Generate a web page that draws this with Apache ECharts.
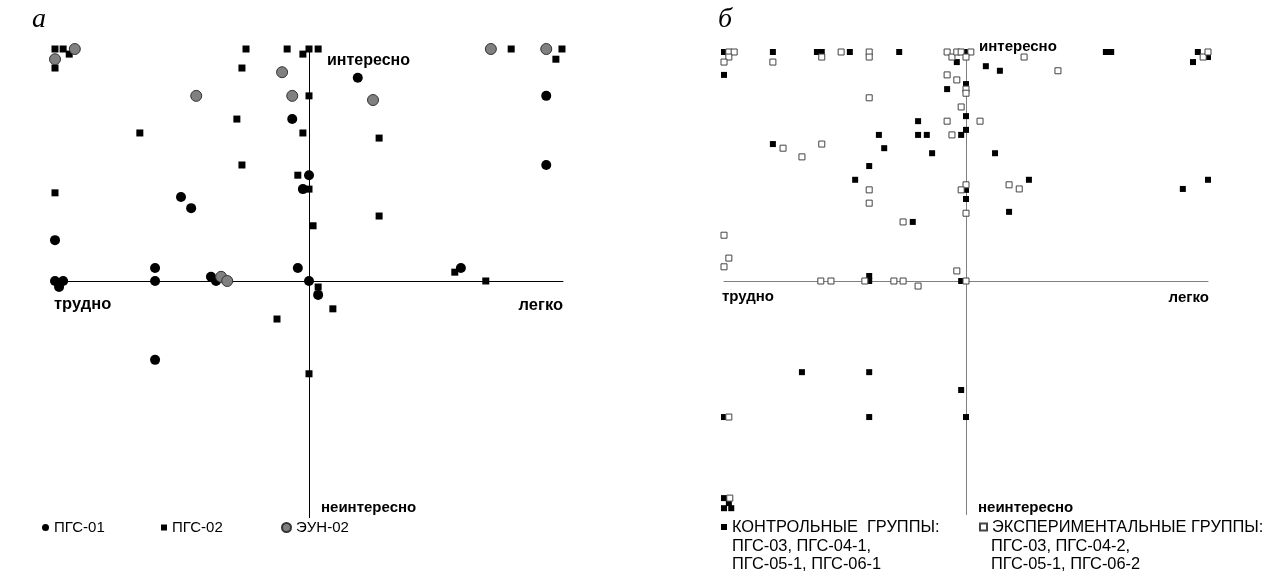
<!DOCTYPE html>
<html><head><meta charset="utf-8">
<script src="https://cdn.jsdelivr.net/npm/echarts@6/dist/echarts.min.js"></script>
<style>html,body{margin:0;padding:0;background:#fff}#c{width:1273px;height:574px}</style>
</head><body><div id="c"></div>
<script>
// Panel а: x = трудно(-5) .. легко(+5), y = неинтересно(-5) .. интересно(+5)
const pgs01 = [[-0.33,3.49],[0,2.28],[-0.12,1.98],[-2.52,1.81],[-2.32,1.57],[0.96,4.38],[4.67,3.99],[4.67,2.5],[-5,0.88],[-5,0],[-4.92,-0.13],[-4.84,0],[-3.03,0.28],[-3.03,0],[-1.93,0.09],[-1.83,0],[-0.22,0.28],[0,0],[0.18,-0.3],[-3.03,-1.7],[2.99,0.28]];
const pgs02 = [[-5,5],[-4.84,5],[-4.72,4.89],[-5,4.59],[-1.24,5],[-1.32,4.59],[-0.43,5],[-0.12,4.89],[0,5],[0.18,5],[0,3.99],[-1.42,3.49],[-3.33,3.19],[-0.12,3.19],[-1.32,2.5],[-0.22,2.28],[0,1.98],[-5,1.9],[3.98,5],[4.98,5],[4.86,4.78],[1.38,3.08],[0.08,1.19],[0.18,-0.13],[-0.63,-0.82],[0,-2],[1.38,1.4],[2.87,0.19],[3.48,0],[0.47,-0.6]];
const eun02 = [[-4.61,5],[-5,4.78],[-2.22,3.99],[-0.53,4.5],[-0.33,3.99],[1.26,3.9],[3.58,5],[4.67,5],[-1.73,0.09],[-1.61,0]];
// Panel б
const control = [[-5,5],[-3.99,5],[-3.08,5],[-2.98,5],[-2.4,5],[-1.38,5],[0,5],[-0.19,4.78],[-5,4.5],[0,4.3],[-0.39,4.19],[0,3.6],[-0.99,3.49],[-1.8,3.19],[-0.99,3.19],[-0.81,3.19],[-0.1,3.19],[0,3.3],[-3.99,2.99],[-1.69,2.9],[-0.7,2.79],[0.6,2.79],[0.41,4.69],[0.7,4.59],[2.89,5],[3.0,5],[4.79,5],[5,4.89],[4.69,4.78],[-2,2.51],[-2.29,2.21],[0,1.99],[0,1.79],[-1.1,1.29],[-2,0.11],[-2,0],[-0.1,0],[1.3,2.21],[0.89,1.51],[4.48,2.01],[5,2.21],[-3.39,-1.99],[-2,-1.99],[-0.1,-2.38],[0,-2.97],[-2,-2.97],[-5,-2.97],[-5,-4.74],[-4.9,-4.85],[-5,-4.96],[-4.85,-4.96]];
const experimental = [[-4.9,5],[-4.79,5],[-4.9,4.89],[-5,4.78],[-3.99,4.78],[-2.98,4.89],[-2.58,5],[-2,5],[-2,4.89],[-0.39,5],[-0.29,4.89],[-0.19,5],[-0.1,5],[0.1,5],[0,4.89],[-0.39,4.5],[-0.19,4.39],[0,4.19],[0,4.1],[-2,4.0],[-0.1,3.8],[-0.39,3.49],[0.29,3.49],[-0.29,3.19],[-3.78,2.9],[-2.98,2.99],[-3.39,2.71],[1.2,4.89],[1.9,4.59],[4.9,4.89],[5,5],[-2,1.99],[-2,1.7],[0,2.1],[-0.1,1.99],[0,1.48],[-1.3,1.29],[-5,1.0],[-4.9,0.5],[-5,0.31],[-3,0],[-2.79,0],[-2.09,0],[-1.49,0],[-1.3,0],[-0.99,-0.11],[-0.19,0.22],[0,0],[0.89,2.1],[1.1,2.01],[-4.9,-2.97],[-4.88,-4.74]];

const FONT = '"Liberation Sans", Arial, sans-serif';
const chart = echarts.init(document.getElementById('c'), null, {renderer:'canvas'});

function axisX(idx, color){ return {type:'value', gridIndex:idx, min:-5, max:5, axisLine:{onZero:true, lineStyle:{color:color,width:1}}, axisTick:{show:false}, axisLabel:{show:false}, splitLine:{show:false}}; }
function axisY(idx, color){ return {type:'value', gridIndex:idx, min:-5.1, max:5, axisLine:{onZero:true, lineStyle:{color:color,width:1}}, axisTick:{show:false}, axisLabel:{show:false}, splitLine:{show:false}}; }

function txt(x, y, s, font){ return {type:'text', left:x, top:y, z:10, style:{text:s, font:font||('bold 15px '+FONT), fill:'#000'}}; }

const legendText = {fontFamily:FONT, fontSize:15, color:'#000'};
function leg(name, x, y, icon, w, h, fs){ return {data:[{name:name, icon:icon}], left:x, top:y, padding:0, itemWidth:w, itemHeight:h, itemGap:0, textStyle:Object.assign({}, legendText, {fontSize:fs||15}), selectedMode:false}; }

chart.setOption({
  animation:false,
  backgroundColor:'#fff',
  grid:[
    {left:55, top:49, width:508, height:468.6},
    {left:724, top:52, width:484, height:462.6}
  ],
  xAxis:[axisX(0,'#000'), axisX(1,'#808080')],
  yAxis:[axisY(0,'#000'), axisY(1,'#808080')],
  legend:[
    leg('ПГС-01', 42, 520, 'circle', 7, 7),
    leg('ПГС-02', 161, 520, 'rect', 6, 6),
    leg('ЭУН-02', 281, 520, 'circle', 9, 9),
    leg('КОНТРОЛЬНЫЕ  ГРУППЫ:', 721, 519, 'rect', 6, 6, 16.4),
    leg('ЭКСПЕРИМЕНТАЛЬНЫЕ ГРУППЫ:', 979, 519, 'rect', 7, 7, 16.4)
  ],
  series:[
    {name:'ПГС-01', type:'scatter', xAxisIndex:0, yAxisIndex:0, data:pgs01, symbol:'circle', symbolSize:10, clip:false, itemStyle:{color:'#000', opacity:1}},
    {name:'ПГС-02', type:'scatter', xAxisIndex:0, yAxisIndex:0, data:pgs02, symbol:'rect', symbolSize:7, clip:false, itemStyle:{color:'#000', opacity:1}},
    {name:'ЭУН-02', type:'scatter', xAxisIndex:0, yAxisIndex:0, data:eun02, symbol:'circle', symbolSize:11, clip:false, itemStyle:{color:'#808080', borderColor:'#333', borderWidth:1, opacity:1}},
    {name:'КОНТРОЛЬНЫЕ  ГРУППЫ:', type:'scatter', xAxisIndex:1, yAxisIndex:1, data:control, symbol:'rect', symbolSize:6, clip:false, itemStyle:{color:'#000', opacity:1}},
    {name:'ЭКСПЕРИМЕНТАЛЬНЫЕ ГРУППЫ:', type:'scatter', xAxisIndex:1, yAxisIndex:1, data:experimental, symbol:'rect', symbolSize:6, clip:false, itemStyle:{color:'#fff', borderColor:'#444', borderWidth:1, opacity:1}}
  ],
  graphic:[
    txt(32, 6, 'а', 'italic 28px "Liberation Serif", "Times New Roman", serif'),
    txt(718, 6, 'б', 'italic 28px "Liberation Serif", "Times New Roman", serif'),
    txt(327, 53, 'интересно', 'bold 16px '+FONT),
    txt(54, 296, 'трудно', 'bold 16.5px '+FONT),
    {type:'text', right:1273-563, top:297, z:10, style:{text:'легко', font:'bold 16.5px '+FONT, fill:'#000'}},
    txt(321, 500, 'неинтересно'),
    txt(979, 39, 'интересно'),
    txt(722, 289, 'трудно'),
    {type:'text', right:1273-1209, top:290, z:10, style:{text:'легко', font:'bold 15px '+FONT, fill:'#000'}},
    txt(978, 500, 'неинтересно'),
    txt(732, 538, 'ПГС-03, ПГС-04-1,', '16.4px '+FONT),
    txt(732, 556, 'ПГС-05-1, ПГС-06-1', '16.4px '+FONT),
    txt(991, 538, 'ПГС-03, ПГС-04-2,', '16.4px '+FONT),
    txt(991, 556, 'ПГС-05-1, ПГС-06-2', '16.4px '+FONT)
  ]
});
</script></body></html>
